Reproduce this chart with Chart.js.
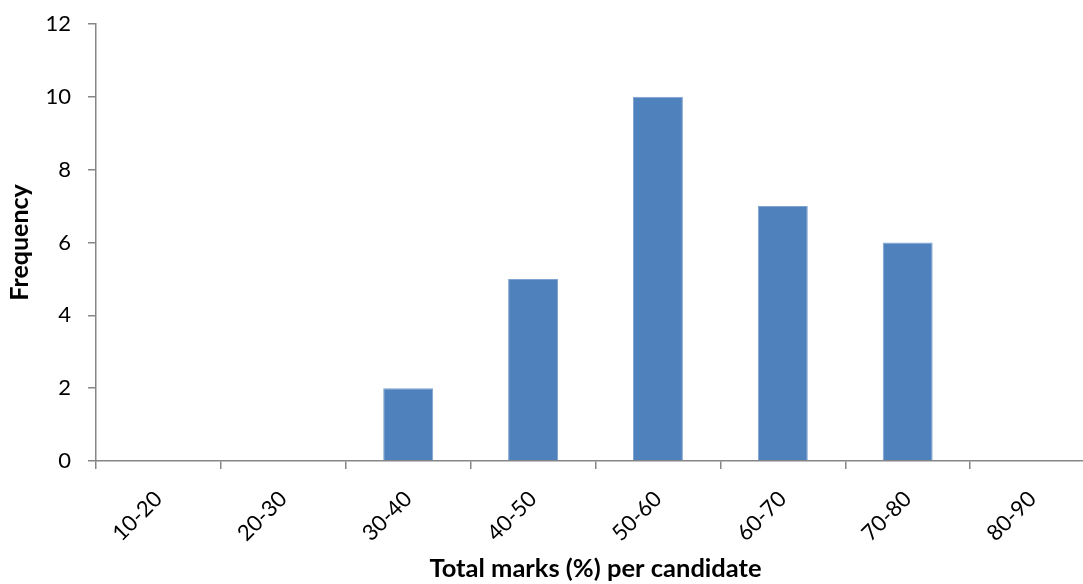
<!DOCTYPE html>
<html>
<head>
<meta charset="utf-8">
<script src="https://cdn.jsdelivr.net/npm/chart.js@4/dist/chart.umd.min.js"></script>
<style>
  html, body { margin: 0; padding: 0; background: #fff; overflow: hidden; }
  #wrap { width: 1100px; height: 584px; }
</style>
</head>
<body>
<div id="wrap"><canvas id="chart" width="1100" height="584"></canvas></div>
<script>
const categories = ['10-20', '20-30', '30-40', '40-50', '50-60', '60-70', '70-80', '80-90'];
const frequency = [0, 0, 2, 5, 10, 7, 6, 0];
const yTicks = [0, 2, 4, 6, 8, 10, 12];

const axisGray = '#868686';
const fontFamily = 'Lato, "Open Sans", sans-serif';

new Chart(document.getElementById('chart'), {
  type: 'bar',
  data: {
    labels: categories,
    datasets: [{
      label: 'Frequency',
      data: frequency,
      backgroundColor: '#4F81BD',
      borderColor: '#7FA3CF',
      borderWidth: 1,
      categoryPercentage: 0.4,
      barPercentage: 1.0
    }]
  },
  options: {
    responsive: false,
    animation: false,
    layout: { padding: { top: 24, right: 5, left: 5, bottom: 0 } },
    plugins: { legend: { display: false }, tooltip: { enabled: false } },
    scales: {
      x: {
        offset: true,
        afterFit: (scale) => { scale.height = 123; scale.paddingLeft = 0; scale.paddingRight = 0; },
        grid: { display: true, offset: true, drawOnChartArea: false, color: axisGray, tickLength: 8, lineWidth: 1.5 },
        border: { display: true, color: axisGray, width: 1.5 },
        ticks: { color: '#000', font: { family: fontFamily, size: 22 }, minRotation: 45, maxRotation: 45, padding: 17 },
        title: { display: true, text: 'Total marks (%) per candidate', color: '#000', font: { family: fontFamily, size: 25.5, weight: 'bold' }, padding: { top: 0, bottom: 0 } }
      },
      y: {
        min: 0,
        max: 12,
        afterFit: (scale) => { scale.width = 91; scale.paddingTop = 0; scale.paddingBottom = 0; },
        afterBuildTicks: (scale) => { scale.ticks = yTicks.map(v => ({ value: v })); },
        grid: { display: true, drawOnChartArea: false, color: axisGray, tickLength: 8, lineWidth: 1.5 },
        border: { display: true, color: axisGray, width: 1.5 },
        ticks: { color: '#000', font: { family: fontFamily, size: 22 }, padding: 17 },
        title: { display: true, text: 'Frequency', color: '#000', font: { family: fontFamily, size: 25, weight: 'bold' }, padding: { top: 0, bottom: 5 } }
      }
    }
  }
});
</script>
</body>
</html>
